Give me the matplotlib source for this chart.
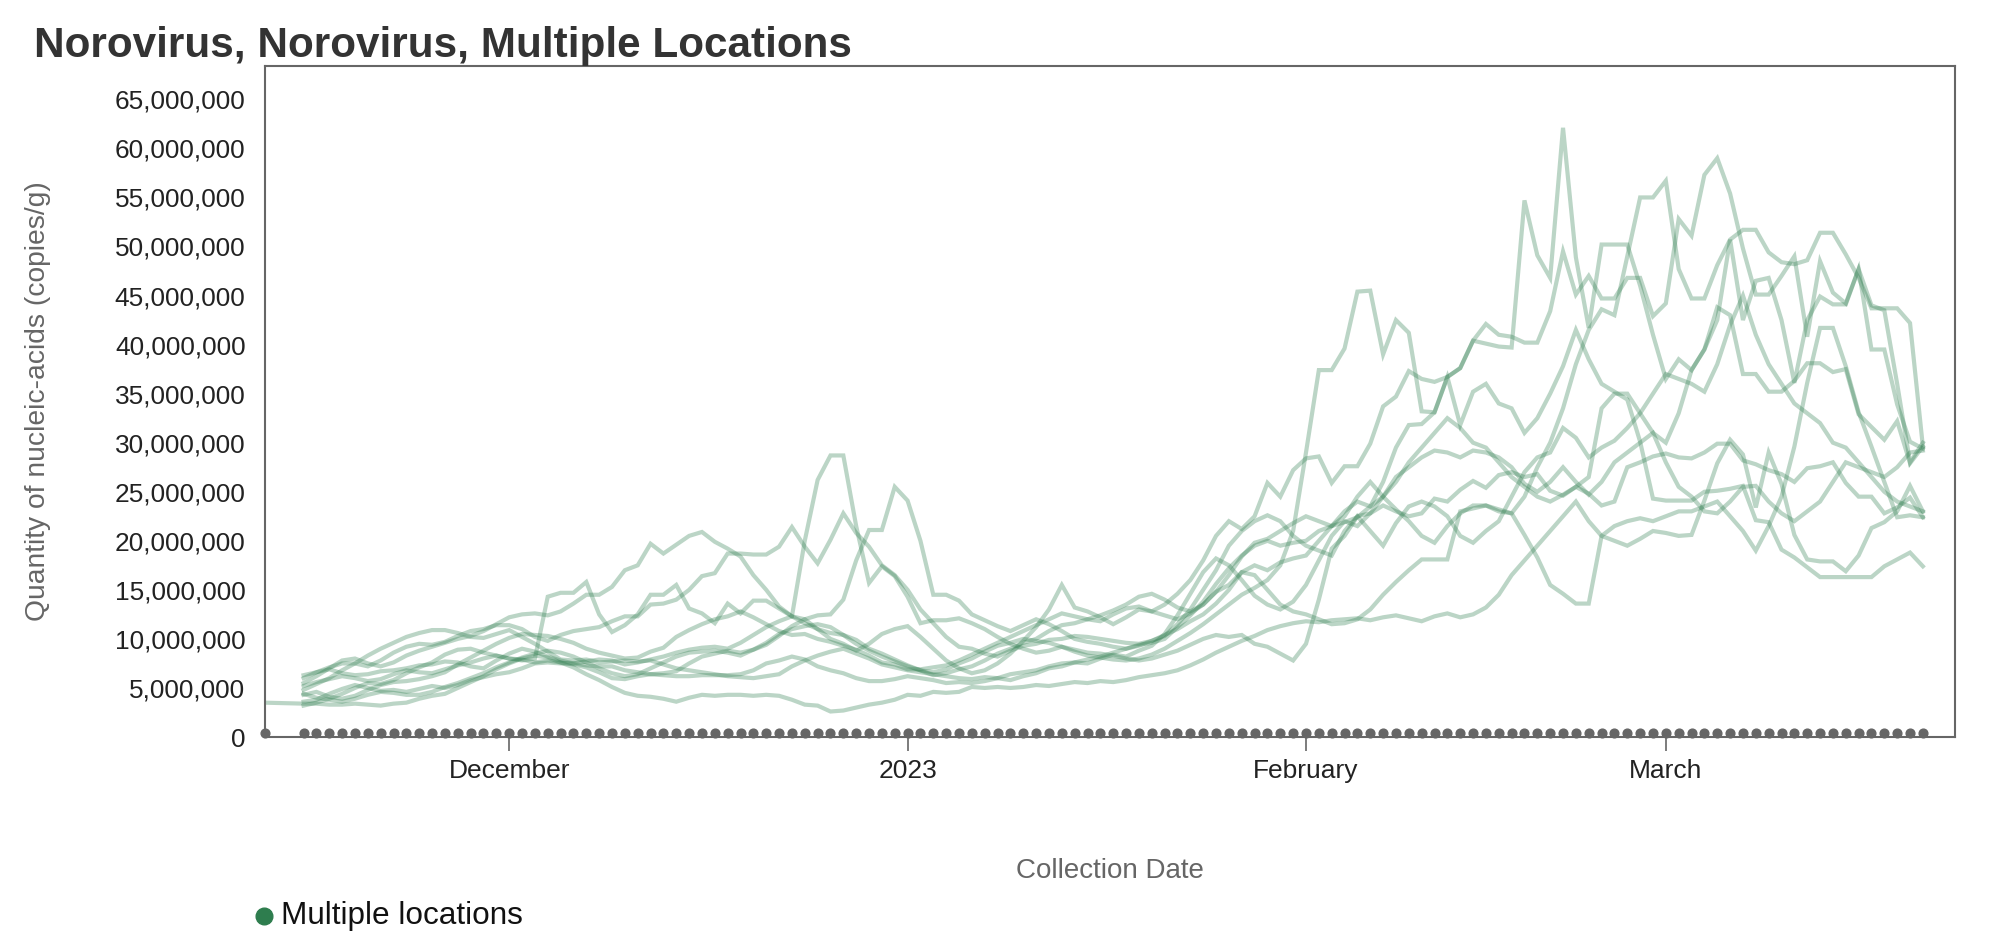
import numpy as np
import pandas as pd
import matplotlib
matplotlib.use('Agg')
import matplotlib.pyplot as plt
from matplotlib.lines import Line2D
from matplotlib.ticker import FuncFormatter
from matplotlib.transforms import offset_copy

# one early sample for the first site, then daily samples
early_date = pd.Timestamp('2022-11-12')
dates = pd.date_range('2022-11-15', '2023-03-21', freq='D')

# values in millions of copies/g, one list per location
site_0_early = 3.5
site_0 = [3.4,3.4,3.3,3.3,3.4,3.3,3.2,3.4,3.5,3.9,4.2,4.4,5.0,5.6,6.2,6.9,7.5,
          8.0,8.3,8.1,7.6,7.1,6.4,5.8,5.1,4.5,4.2,4.1,3.9,3.6,4.0,4.3,
          4.2,4.3,4.3,4.2,4.3,4.2,3.8,3.3,3.2,2.6,2.7,3.0,3.3,3.5,3.8,
          4.3,4.2,4.6,4.5,4.6,5.1,5.0,5.1,5.0,5.1,5.3,5.2,5.4,5.6,5.5,
          5.7,5.6,5.8,6.1,6.3,6.5,6.8,7.3,7.9,8.6,9.2,9.8,10.3,10.9,11.3,11.6,
          11.8,11.7,11.9,12.0,12.1,11.9,12.2,12.4,12.1,11.8,12.3,12.6,12.2,12.5,13.2,
          14.5,16.5,18.0,19.5,21.0,22.5,24.0,22.0,20.5,20.0,19.5,20.2,21.0,
          20.8,20.5,20.6,24.1,27.9,30.3,28.8,23.4,29.0,25.8,20.6,18.1,17.9,17.9,16.9,18.5,21.3,21.9,23.0,25.6,23.0]
site_1 = [4.8,5.4,6.0,6.8,7.5,8.3,9.0,9.6,10.2,10.6,10.9,10.9,10.6,10.2,10.1,10.5,10.9,
          10.2,9.5,8.7,7.9,7.8,7.9,7.6,7.7,7.8,7.7,7.8,7.4,7.0,6.8,6.6,
          6.4,6.2,6.1,6.0,6.2,6.4,7.2,7.8,8.3,8.7,9.0,8.5,8.0,7.4,7.1,
          6.8,6.6,6.4,6.2,6.0,5.9,6.1,6.0,5.8,6.2,6.5,7.0,7.2,7.6,7.5,
          8.0,8.4,8.2,8.8,9.3,10.5,12.4,14.6,16.8,18.2,17.5,16.0,14.4,13.5,13.0,13.8,
          15.5,18.0,20.5,22.0,21.5,22.8,23.6,23.0,22.5,22.8,24.3,24.0,25.2,26.1,25.4,
          26.7,27.0,26.5,26.8,25.1,24.6,25.5,24.8,23.6,24.0,27.5,28.0,28.6,
          28.9,28.5,28.4,29.0,29.9,29.9,28.2,27.8,27.2,26.8,26.0,27.4,27.6,28.0,25.9,24.5,24.5,22.8,23.4,24.4,22.4]
site_2 = [6.3,6.6,6.9,6.5,6.3,6.4,6.7,6.8,7.0,7.3,7.4,7.7,7.6,7.2,7.0,7.8,8.5,
          9.0,8.7,8.2,7.8,7.5,7.7,7.9,7.8,7.4,7.6,7.9,8.2,8.6,8.9,9.1,
          9.2,9.0,9.6,10.4,11.2,11.8,12.3,20.0,26.2,28.7,28.7,21.5,15.7,17.4,16.4,
          14.3,11.6,11.9,11.9,12.1,11.6,11.0,10.2,9.5,9.0,8.6,8.8,9.2,8.7,8.3,
          8.1,7.9,7.8,8.0,8.4,9.0,9.8,10.6,11.5,12.5,13.5,14.5,15.2,16.0,17.5,21.0,
          29.0,37.4,37.4,39.6,45.4,45.5,39.0,42.5,41.2,33.2,33.1,36.7,31.8,35.2,36.0,
          34.0,33.5,31.0,32.5,35.0,37.8,41.5,38.5,36.0,35.2,34.4,30.1,24.3,
          24.1,24.1,24.1,25.0,25.1,25.3,25.6,22.1,21.9,19.1,18.3,17.3,16.3,16.3,16.3,16.3,16.3,17.4,18.1,18.8,17.4]
site_3 = [5.2,5.6,5.9,6.2,6.0,5.7,5.9,6.4,6.8,6.6,6.5,6.9,7.3,7.6,8.0,8.3,8.0,
          7.8,8.0,14.3,14.7,14.7,15.8,12.5,10.7,11.4,12.5,14.5,14.5,15.5,13.1,12.6,
          11.6,13.6,12.6,13.9,13.9,13.1,12.3,12.0,11.0,10.0,9.5,8.8,9.5,10.5,11.0,
          11.3,10.2,9.0,7.8,7.0,6.5,6.8,7.5,8.5,9.8,11.2,13.0,15.5,13.2,12.8,
          12.2,11.5,12.2,13.0,12.8,13.5,14.6,16.0,18.0,20.5,22.0,21.2,22.5,25.9,24.5,27.2,
          28.4,28.6,25.9,27.6,27.6,29.9,33.7,34.7,37.3,36.5,36.2,36.7,37.6,40.4,42.1,
          41.0,40.8,40.2,40.2,43.4,49.5,45.1,47.0,44.7,44.7,46.8,46.8,42.9,
          44.2,52.8,51.1,57.3,59.0,55.4,49.8,45.1,45.1,47.0,49.0,40.8,48.5,45.3,44.2,47.7,44.0,43.5,36.0,28.0,30.0]
site_4 = [5.5,6.2,7.0,7.8,8.0,7.5,7.2,7.6,8.3,8.8,9.2,9.6,10.0,10.3,10.8,11.5,12.2,
          12.5,12.6,12.4,12.8,13.6,14.5,14.5,15.3,17.0,17.5,19.7,18.7,19.6,20.5,20.9,
          19.9,19.2,18.4,16.5,15.0,13.3,12.3,11.6,11.0,10.6,10.4,9.9,9.0,8.5,7.9,
          7.3,6.8,6.3,6.5,6.9,7.2,7.8,8.5,9.0,9.6,10.0,10.8,11.4,11.6,12.0,
          12.4,12.9,13.5,14.3,14.6,14.0,13.2,12.8,13.5,14.8,16.5,18.4,19.8,20.2,21.0,21.8,
          22.5,22.0,21.5,21.9,22.4,23.5,26.0,29.5,31.8,31.9,33.1,36.7,37.6,40.4,40.1,
          39.8,39.7,54.7,49.1,46.8,62.1,48.9,41.7,50.2,50.2,50.2,46.0,41.0,
          36.5,38.5,37.4,39.5,43.8,43.0,37.0,37.0,35.2,35.2,36.3,38.1,38.1,37.2,37.5,32.9,31.6,30.3,32.2,27.9,29.6]
site_5 = [3.2,3.5,3.9,4.4,5.0,5.5,5.4,5.8,6.5,7.1,7.6,8.4,8.9,9.0,8.6,8.3,8.0,
          7.9,7.6,7.8,7.6,7.4,7.1,6.6,6.0,5.9,6.2,6.4,6.5,6.7,7.5,8.2,
          8.5,8.8,8.6,8.9,9.4,10.3,11.3,12.0,12.4,12.5,14.0,18.0,21.1,21.1,25.5,
          24.1,20.0,14.5,14.5,13.9,12.5,11.9,11.3,10.8,11.4,12.0,11.5,10.8,10.0,9.7,
          9.5,9.2,9.0,9.3,9.8,10.4,11.0,11.8,12.5,13.6,15.0,16.8,16.5,15.0,13.5,12.8,
          12.5,12.0,11.5,11.6,12.0,13.0,14.5,15.8,17.0,18.1,18.1,18.1,23.0,23.3,23.6,
          23.2,22.8,20.6,18.3,15.5,14.6,13.6,13.6,20.5,21.5,22.0,22.3,22.0,
          22.5,23.0,23.0,23.5,24.0,22.5,21.0,19.0,21.5,24.5,29.6,36.1,41.7,41.7,37.8,33.1,29.6,26.0,22.4,22.6,22.4]
site_6 = [4.3,4.6,4.1,3.9,4.2,4.8,5.3,5.6,5.7,5.9,6.2,6.6,7.4,8.1,8.8,9.5,10.1,
          10.5,10.4,10.3,10.0,9.6,9.0,8.6,8.3,8.0,8.1,8.7,9.1,10.2,10.9,11.5,
          12.0,12.3,12.8,12.2,11.5,10.8,10.4,10.5,10.0,9.7,9.3,8.9,8.3,7.6,7.4,
          6.9,6.9,7.1,7.3,7.8,8.4,9.0,9.6,10.2,10.8,11.4,12.0,12.6,12.3,12.0,
          11.8,12.5,13.1,13.3,12.8,12.4,12.0,12.6,13.5,14.8,15.5,16.8,17.5,17.0,17.8,18.2,
          18.5,20.0,21.5,23.0,24.0,23.5,24.5,26.0,28.0,29.5,31.0,32.5,31.5,30.0,29.5,
          28.0,26.5,25.5,24.5,24.0,24.7,25.5,26.5,33.5,35.0,35.0,33.0,31.0,
          30.0,33.0,37.4,39.5,42.5,50.7,42.5,46.5,46.8,42.5,36.1,42.5,44.9,44.1,44.1,47.7,39.5,39.5,33.9,30.1,29.4]
site_7 = [3.6,3.8,4.4,4.9,5.3,5.0,4.7,4.8,4.6,4.9,5.2,5.0,5.3,5.8,6.1,6.4,6.6,
          7.0,7.5,7.6,7.5,7.5,7.3,7.2,7.2,6.8,6.6,6.4,6.3,6.2,6.2,6.3,
          6.3,6.3,6.4,6.8,7.5,7.8,8.2,7.9,7.2,6.8,6.5,6.0,5.7,5.7,5.9,
          6.2,6.0,5.8,5.5,5.6,5.5,5.7,6.0,6.4,6.6,6.8,7.2,7.5,7.6,7.9,
          8.2,8.6,9.0,9.4,9.6,10.0,11.2,12.4,13.8,15.6,17.2,18.5,19.5,20.0,19.5,19.8,
          20.0,21.0,21.5,22.5,24.5,26.0,24.5,23.2,22.0,20.5,19.8,21.5,22.8,23.6,23.6,
          23.0,22.8,24.5,27.5,30.0,33.5,38.0,41.5,43.6,43.0,49.0,55.0,55.0,
          56.7,47.7,44.7,44.7,48.1,50.7,51.7,51.7,49.4,48.4,48.2,48.6,51.4,51.4,49.2,46.8,43.7,43.7,43.7,42.2,29.6]
site_8 = [4.4,4.0,3.8,3.6,3.9,4.3,4.6,4.5,4.3,4.3,4.6,5.1,5.5,6.0,6.5,7.1,7.6,
          8.1,8.5,8.8,8.6,8.2,7.6,7.0,6.5,6.2,6.4,7.0,7.6,8.2,8.6,8.7,
          8.8,8.6,8.3,8.9,9.6,10.5,11.0,11.3,11.5,11.2,10.4,9.5,8.8,8.2,7.7,
          7.2,6.8,6.6,6.9,7.5,8.0,8.7,9.3,9.6,10.0,9.8,9.6,9.2,8.9,8.6,
          8.5,8.3,8.0,7.8,8.0,8.4,8.8,9.4,10.0,10.4,10.2,10.4,9.5,9.2,8.5,7.8,
          9.5,14.0,19.2,20.5,22.5,21.0,19.5,21.8,23.5,24.0,23.5,22.5,20.5,19.8,21.0,
          22.0,24.5,27.0,28.5,29.0,31.5,30.5,28.5,29.5,30.2,31.5,33.0,35.0,
          37.0,36.5,36.0,35.2,38.0,42.0,45.0,41.0,38.0,36.0,34.0,33.0,32.0,30.0,29.5,28.0,26.5,25.0,24.0,23.5,23.0]
site_9 = [6.0,6.6,7.1,7.5,7.5,7.2,7.8,8.6,9.2,9.5,9.4,9.7,10.3,10.8,11.0,11.4,11.4,
          11.0,10.2,9.8,10.4,10.8,11.0,11.2,11.8,12.3,12.3,13.5,13.6,14.0,15.0,16.4,
          16.7,18.7,18.7,18.6,18.6,19.4,21.4,19.4,17.7,20.1,22.8,20.8,19.4,17.5,16.5,
          15.0,13.0,11.6,10.2,9.2,9.0,8.5,8.2,8.8,9.3,9.5,9.9,10.0,10.3,10.2,
          10.0,9.8,9.6,9.5,9.8,10.3,11.5,13.0,15.0,17.0,19.5,21.0,22.0,22.6,22.0,20.5,
          19.5,19.0,18.5,21.0,22.5,22.8,24.5,26.5,27.5,28.5,29.2,29.0,28.5,29.2,29.0,
          28.5,27.5,25.8,25.0,26.0,27.5,26.0,24.7,26.0,28.0,29.0,30.0,31.0,
          28.0,25.5,24.5,23.0,22.8,24.0,25.5,25.6,24.0,22.8,22.0,23.0,24.0,26.0,28.0,27.5,27.0,26.5,27.5,29.0,29.2]

tick_dates = ['2022-12-01', '2023-01-01', '2023-02-01', '2023-03-01']
tick_labels = ['December', '2023', 'February', 'March']

plt.rcParams['font.family'] = ['Liberation Sans', 'DejaVu Sans']
green = '#2e7d4e'

fig = plt.figure(figsize=(20, 9.36), dpi=100)
ax = fig.add_axes([0.1325, 0.2126, 0.845, 0.7169])

x0 = [early_date] + list(dates)
ax.plot(x0, np.array([site_0_early] + site_0) * 1e6, color=green, alpha=0.32, lw=3, solid_joinstyle='miter')
for s in [site_1, site_2, site_3, site_4, site_5, site_6, site_7, site_8, site_9]:
    ax.plot(dates, np.array(s) * 1e6, color=green, alpha=0.32, lw=3, solid_joinstyle='miter')

# sample markers sitting on the baseline
dot_trans = offset_copy(ax.transData, fig=fig, x=0, y=2.6, units='points')
ax.plot(x0, np.zeros(len(x0)), 'o', color='#666666', ms=6.3, clip_on=False, zorder=3,
        transform=dot_trans)

ax.set_xlim(pd.Timestamp('2022-11-12'), pd.Timestamp('2023-03-23 12:00'))
ax.set_ylim(0, 68.4e6)
ax.set_yticks(np.arange(0, 65e6 + 1, 5e6))
ax.yaxis.set_major_formatter(FuncFormatter(lambda v, p: f'{int(v):,}'))
ax.set_xticks(pd.to_datetime(tick_dates))
ax.set_xticklabels(tick_labels)

ax.tick_params(axis='x', length=10, width=1.2, color='#666666', labelsize=19, labelcolor='#222222', pad=6)
ax.tick_params(axis='y', length=0, pad=14, labelsize=18.9, labelcolor='#222222')
for edge in ['top', 'right', 'bottom', 'left']:
    ax.spines[edge].set_color('#666666')
    ax.spines[edge].set_linewidth(1.5)

fig.text(0.017, 0.939, 'Norovirus, Norovirus, Multiple Locations', fontsize=30.4, weight='bold',
         color='#333333', ha='left', va='baseline')
fig.text(0.019, 0.5716, 'Quantity of nucleic-acids (copies/g)', rotation=90, fontsize=20.3,
         color='#666666', ha='center', va='center')
fig.text(0.555, 0.0694, 'Collection Date', fontsize=20, color='#666666', ha='center', va='center')

fig.add_artist(Line2D([0.132], [0.0214], marker='o', ms=12, color=green, transform=fig.transFigure))
fig.text(0.1405, 0.0214, 'Multiple locations', fontsize=22.7, color='#111111', ha='left', va='center')

fig.savefig('out.png', dpi=100)
